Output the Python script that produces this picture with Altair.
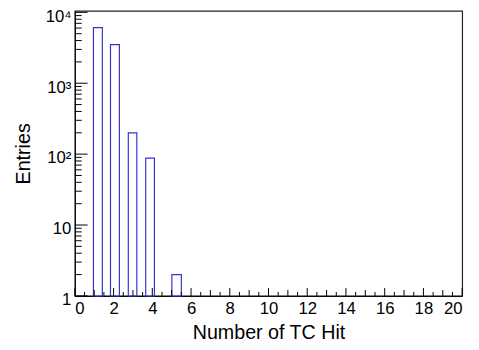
import altair as alt
import pandas as pd

# Histogram bins (bar edges as drawn) and counts
bar_lo = [0.96, 1.84, 2.76, 3.66, 5.01]
bar_hi = [1.42, 2.30, 3.20, 4.11, 5.50]
counts = [6100, 3500, 199, 88, 2]

# Axis ticks / labels
x_major = [0, 2, 4, 6, 8, 10, 12, 14, 16, 18, 20]
x_mid = [1, 3, 5, 7, 9, 11, 13, 15, 17, 19]
x_minor = [0.5, 1.5, 2.5, 3.5, 4.5, 5.5, 6.5, 7.5, 8.5, 9.5, 10.5, 11.5, 12.5,
           13.5, 14.5, 15.5, 16.5, 17.5, 18.5, 19.5]
y_major = [1, 10, 100, 1000, 10000]
y_major_labels = ["1", "10", "10²", "10³", "10⁴"]
y_minor = [m * d for d in [1, 10, 100, 1000] for m in range(2, 10)]

W, H = 394, 290
FONT = "Liberation Sans"
BLUE = "#3434cc"

xs = alt.Scale(domain=[0, 20], nice=False, zero=False)
ys = alt.Scale(type="log", domain=[1, 10500], nice=False)

bars = pd.DataFrame({"lo": bar_lo, "hi": bar_hi, "n": counts, "base": [1] * len(counts)})

label_expr = "''"
for v, l in reversed(list(zip(y_major, y_major_labels))):
    label_expr = f"datum.value == {v} ? '{l}' : ({label_expr})"

x_axis = alt.Axis(
    title="Number of TC Hit", values=x_major, format="d", ticks=False,
    labelFontSize=17, titleFontSize=20, labelPadding=5, titlePadding=6,
    grid=False, domainColor="#000", labelColor="#000", titleColor="#000",
    labelFont=FONT, titleFont=FONT, titleFontWeight="normal")
y_axis = alt.Axis(
    title="Entries", values=y_major, labelExpr=label_expr, ticks=False,
    labelFontSize=17, titleFontSize=20, labelPadding=4, titlePadding=12,
    labelOffset=4, labelBound=False,
    grid=False, domainColor="#000", labelColor="#000", titleColor="#000",
    labelFont=FONT, titleFont=FONT, titleFontWeight="normal")

bar_layer = alt.Chart(bars).mark_rect(fill="white", stroke=BLUE, strokeWidth=1.2).encode(
    x=alt.X("lo:Q", scale=xs, axis=x_axis),
    x2="hi:Q",
    y=alt.Y("n:Q", scale=ys, axis=y_axis),
    y2="base:Q",
)

def xticks(vals, length):
    return alt.Chart(pd.DataFrame({"lo": vals})).mark_rule(color="#000", strokeWidth=1).encode(
        x=alt.X("lo:Q", scale=xs, axis=x_axis),
        y=alt.value(H), y2=alt.value(H - length))

def yticks(vals, length):
    return alt.Chart(pd.DataFrame({"n": vals})).mark_rule(color="#000", strokeWidth=1).encode(
        y=alt.Y("n:Q", scale=ys, axis=y_axis),
        x=alt.value(0), x2=alt.value(length))

chart = alt.layer(
    bar_layer,
    xticks(x_major, 8), xticks(x_mid, 6), xticks(x_minor, 4),
    yticks(y_major, 13), yticks(y_minor, 7),
).properties(
    width=W, height=H,
    autosize=alt.AutoSizeParams(type="none"),
    padding={"left": 68, "top": 0, "right": 9, "bottom": 44},
    background="white",
).configure_view(stroke="#222", strokeWidth=1.2)

chart.save("out.html", embed_options={"renderer": "svg", "actions": False})
